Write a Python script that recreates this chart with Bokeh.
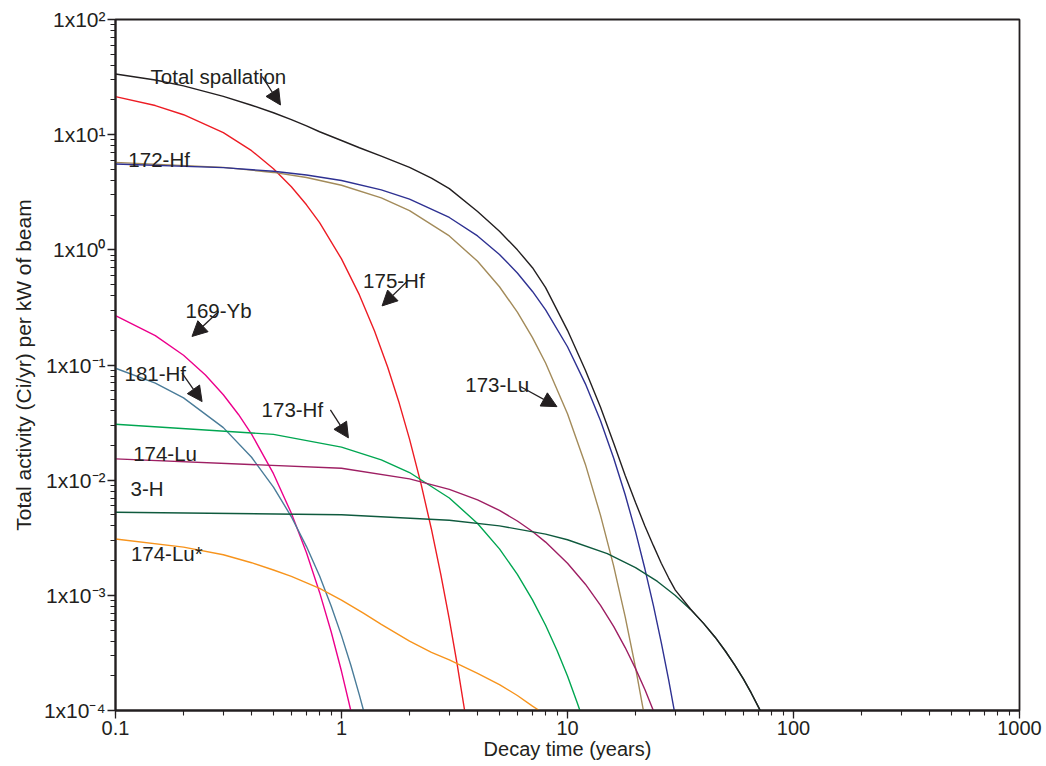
from bokeh.plotting import figure
from bokeh.models import (Arrow, NormalHead, CustomJSTickFormatter, LogTicker,
                          Label, Range1d)
from bokeh.embed import file_html
from bokeh.resources import INLINE

# ---------------- data ----------------
total_t = [0.1, 0.15, 0.2, 0.3, 0.4, 0.5, 0.6, 0.7, 0.8, 1.0, 1.2, 1.5, 2.0, 2.5, 3.0,
           4.0, 5.0, 6.0, 7.0, 8.0, 10, 12, 14, 16, 18, 20, 22, 24, 26, 28, 30, 35,
           40, 45, 50, 55, 60, 65, 70, 72]
total_a = [33.6, 29.8, 26.5, 21.5, 18.0, 15.5, 13.5, 11.9, 10.6, 8.9, 7.7, 6.5, 5.2, 4.2,
           3.4, 2.15, 1.45, 1.0, 0.70, 0.47, 0.20, 0.09, 0.043, 0.021, 0.011, 0.0064,
           0.0040, 0.0027, 0.0019, 0.00142, 0.00111, 7.6e-4, 5.71e-4, 4.33e-4, 3.27e-4,
           2.48e-4, 1.88e-4, 1.42e-4, 1.07e-4, 9.6e-5]

hf172_t = [0.1, 0.3, 0.5, 0.7, 1.0, 1.5, 2, 3, 4, 5, 6, 7, 8, 10, 12, 14, 16, 18, 20,
           22, 24, 26, 28, 30]
hf172_a = [5.57, 5.17, 4.81, 4.47, 4.00, 3.32, 2.76, 1.91, 1.32, 0.911, 0.630, 0.435,
           0.301, 0.144, 0.0686, 0.0328, 0.0156, 0.00747, 0.00357, 0.00170, 8.14e-4,
           3.89e-4, 1.86e-4, 8.9e-5]

lu173_t = [0.1, 0.3, 0.5, 0.7, 1.0, 1.5, 2, 3, 4, 5, 6, 7, 8, 10, 12, 14, 16, 18, 20, 22]
lu173_a = [5.75, 5.20, 4.70, 4.25, 3.64, 2.83, 2.19, 1.32, 0.795, 0.478, 0.288, 0.173,
           0.104, 0.0378, 0.0137, 0.00495, 0.00180, 6.5e-4, 2.36e-4, 8.5e-5]

hf175_t = [0.1, 0.15, 0.2, 0.3, 0.4, 0.5, 0.6, 0.7, 0.8, 1.0, 1.2, 1.4, 1.6, 1.8, 2.0,
           2.25, 2.5, 2.75, 3.0, 3.25, 3.55]
hf175_a = [21.4, 17.9, 14.9, 10.4, 7.26, 5.06, 3.53, 2.46, 1.72, 0.834, 0.406, 0.197,
           0.096, 0.0467, 0.0227, 0.00923, 0.00375, 0.00152, 6.18e-4, 2.51e-4, 8.6e-5]

yb169_t = [0.1, 0.15, 0.2, 0.25, 0.3, 0.35, 0.4, 0.5, 0.6, 0.7, 0.8, 0.9, 1.0, 1.1]
yb169_a = [0.268, 0.180, 0.1216, 0.0819, 0.0552, 0.0372, 0.0251, 0.01138, 0.00516,
           0.00234, 0.00106, 4.83e-4, 2.19e-4, 9.95e-5]

hf181_t = [0.1, 0.15, 0.2, 0.3, 0.4, 0.5, 0.6, 0.7, 0.8, 0.9, 1.0, 1.1, 1.2, 1.25, 1.3]
hf181_a = [0.0937, 0.0697, 0.0518, 0.0286, 0.0158, 0.00871, 0.00481, 0.00265, 0.00147,
           8.09e-4, 4.47e-4, 2.47e-4, 1.36e-4, 1.01e-4, 7.5e-5]

hf173_t = [0.1, 0.5, 1, 1.5, 2, 3, 4, 5, 6, 7, 8, 9, 10, 11, 11.5]
hf173_a = [0.0306, 0.0250, 0.01937, 0.01502, 0.01165, 0.00700, 0.00421, 0.00253,
           0.00152, 9.14e-4, 5.50e-4, 3.30e-4, 1.99e-4, 1.19e-4, 9.3e-5]

lu174_t = [0.1, 1, 2, 3, 4, 5, 6, 7, 8, 10, 12, 14, 16, 18, 20, 22, 24, 24.5]
lu174_a = [0.0153, 0.01268, 0.01026, 0.00832, 0.00674, 0.00546, 0.00442, 0.00358,
           0.00290, 0.00190, 0.00125, 8.19e-4, 5.37e-4, 3.52e-4, 2.31e-4, 1.52e-4,
           9.95e-5, 9.0e-5]

h3_t = [0.1, 1, 3, 5, 8, 10, 15, 20, 25, 30, 35, 40, 45, 50, 55, 60, 65, 70, 72]
h3_a = [0.00527, 0.00501, 0.00449, 0.00401, 0.00340, 0.00304, 0.00230, 0.00174,
        0.00132, 9.98e-4, 7.55e-4, 5.71e-4, 4.33e-4, 3.27e-4, 2.48e-4, 1.88e-4,
        1.42e-4, 1.07e-4, 9.6e-5]

lu174m_t = [0.1, 0.2, 0.3, 0.4, 0.5, 0.6, 0.8, 1.0, 1.25, 1.5, 2.0, 2.5, 3.0, 4.0, 5.0,
            6.0, 7.0, 7.5, 8.0]
lu174m_a = [0.00308, 0.00262, 0.00225, 0.00192, 0.00166, 0.00146, 0.00115, 9.1e-4,
            7.0e-4, 5.6e-4, 4.0e-4, 3.2e-4, 2.75e-4, 2.1e-4, 1.68e-4, 1.35e-4,
            1.09e-4, 1.0e-4, 8.9e-5]

series = [
    (hf175_t, hf175_a, "#ed1c24"),
    (lu173_t, lu173_a, "#a38b5a"),
    (hf172_t, hf172_a, "#2e3192"),
    (yb169_t, yb169_a, "#ec008c"),
    (hf181_t, hf181_a, "#4a7c99"),
    (hf173_t, hf173_a, "#00a651"),
    (lu174_t, lu174_a, "#9e1f63"),
    (h3_t, h3_a, "#0f5a3e"),
    (lu174m_t, lu174m_a, "#f7941d"),
    (total_t, total_a, "#231f20"),
]

label_texts = ["Total spallation", "172-Hf", "175-Hf", "173-Lu", "169-Yb",
               "181-Hf", "173-Hf", "174-Lu", "3-H", "174-Lu*"]
label_x = [0.143, 0.114, 1.246, 3.53, 0.204, 0.1096, 0.443, 0.1197, 0.1165, 0.117]
label_y = [31.7, 6.03, 0.537, 0.068, 0.295, 0.0849, 0.0413, 0.0169, 0.00855, 0.0023]

# arrows: (x_start, y_start, x_end, y_end)
arrows = [
    (0.446, 31.9, 0.537, 18.1),
    (1.95, 0.530, 1.512, 0.326),
    (6.18, 0.065, 8.98, 0.0435),
    (0.286, 0.291, 0.218, 0.177),
    (0.197, 0.085, 0.2416, 0.0481),
    (0.893, 0.0407, 1.073, 0.0233),
]

INK = "#231f20"
FONT = "Liberation Sans"

p = figure(frame_width=904, frame_height=691, x_axis_type="log", y_axis_type="log",
           x_range=Range1d(0.1, 1000), y_range=Range1d(1e-4, 100),
           output_backend="svg", toolbar_location=None,
           min_border_left=115, min_border_top=19, min_border_right=25,
           min_border_bottom=20)
p.grid.visible = False
p.outline_line_color = INK
p.outline_line_width = 1.8
p.background_fill_color = "white"
p.border_fill_color = "white"

for t, a, c in series:
    p.line(t, a, line_color=c, line_width=1.4)

for ax in (p.xaxis[0], p.yaxis[0]):
    ax.axis_line_color = INK
    ax.axis_line_width = 2
    ax.major_tick_line_color = INK
    ax.minor_tick_line_color = INK
    ax.major_tick_line_width = 1.3
    ax.minor_tick_line_width = 1.1
    ax.major_tick_out = 8
    ax.major_tick_in = 0
    ax.minor_tick_out = 5
    ax.minor_tick_in = 0
    ax.major_label_text_font = FONT
    ax.major_label_text_color = INK
    ax.axis_label_text_font = FONT
    ax.axis_label_text_font_style = "normal"
    ax.axis_label_text_color = INK

p.yaxis.major_label_text_font_size = "21px"
p.yaxis.axis_label_text_font_size = "21px"
p.xaxis.major_label_text_font_size = "20px"
p.xaxis.axis_label_text_font_size = "20px"

p.xaxis.ticker = LogTicker(mantissas=[1], num_minor_ticks=10, desired_num_ticks=6)
p.yaxis.ticker = LogTicker(mantissas=[1], num_minor_ticks=10, desired_num_ticks=8)
p.xaxis.formatter = CustomJSTickFormatter(code="return String(Number(tick.toPrecision(3)));")
p.yaxis.formatter = CustomJSTickFormatter(code="""
const e = Math.round(Math.log10(tick));
const sup = {"-":"\u207B","0":"\u2070","1":"\u00B9","2":"\u00B2","3":"\u00B3","4":"\u2074"};
return "1x10" + String(e).split("").map(c => sup[c]).join("");
""")
p.yaxis.axis_label = "Total activity (Ci/yr) per kW of beam"
p.xaxis.axis_label = "Decay time (years)"
p.xaxis.major_label_standoff = 2
p.xaxis.axis_label_standoff = 0
p.yaxis.major_label_standoff = 2
p.yaxis.axis_label_standoff = 6

for txt, x, y in zip(label_texts, label_x, label_y):
    p.add_layout(Label(x=x, y=y, text=txt, text_font=FONT, text_font_size="20.5px",
                       text_color=INK, text_baseline="alphabetic", text_align="left"))

for xs, ys, xe, ye in arrows:
    p.add_layout(Arrow(x_start=xs, y_start=ys, x_end=xe, y_end=ye,
                       line_color=INK, line_width=1.3,
                       end=NormalHead(size=15, fill_color=INK, line_color=INK)))

open("out.html", "w").write(file_html(p, INLINE))
